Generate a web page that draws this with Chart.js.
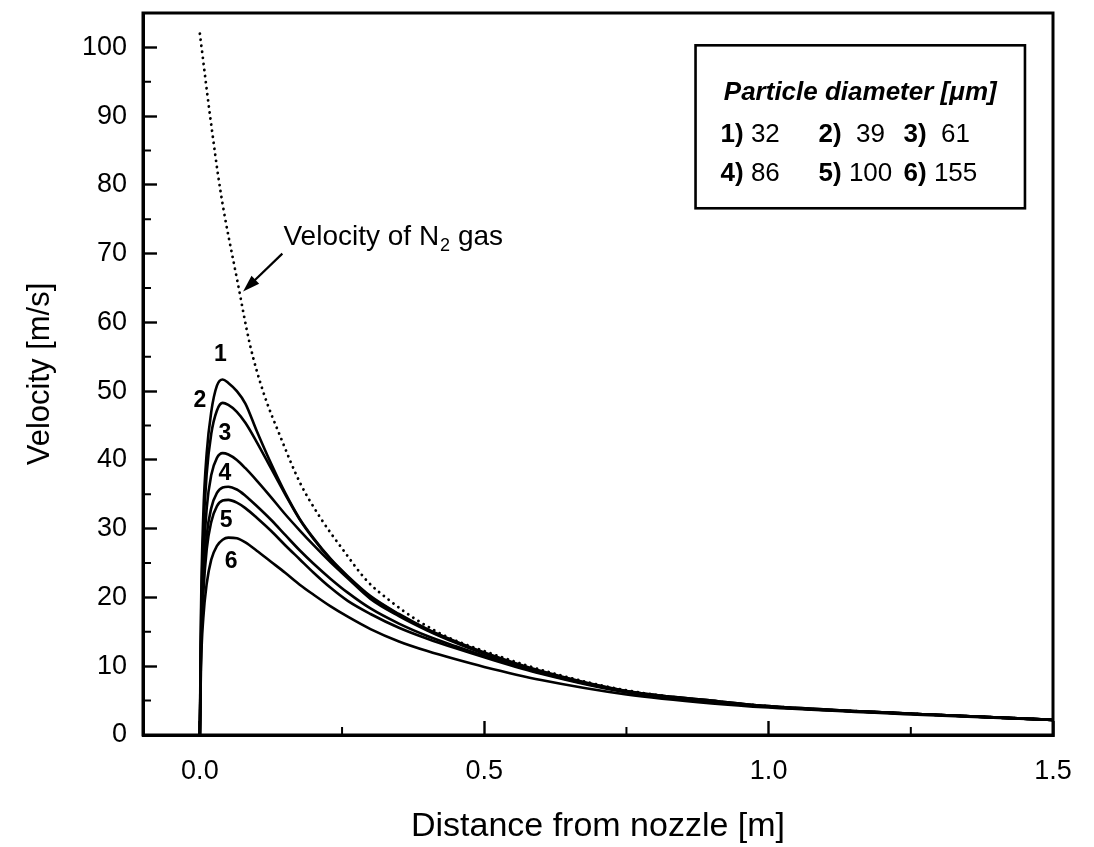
<!DOCTYPE html>
<html>
<head>
<meta charset="utf-8">
<title>Velocity vs distance from nozzle</title>
<script src="https://cdn.jsdelivr.net/npm/chart.js@4.4.1/dist/chart.umd.min.js"></script>
<style>
    html, body { margin: 0; padding: 0; background: #fff; }
    canvas { display: block; }
</style>
</head>
<body>
<canvas id="velocityChart" width="1094" height="847"></canvas>
<script>
// data
const distance = [0, 0.002, 0.006, 0.012, 0.02, 0.03, 0.04, 0.05, 0.065, 0.08, 0.1, 0.125, 0.15, 0.175, 0.2, 0.23, 0.26, 0.3, 0.35, 0.4, 0.45, 0.5, 0.6, 0.75, 0.9, 1.0, 1.25, 1.5];

const v32  = [0, 18, 32, 41, 47, 50.8, 51.7, 51.2, 50, 48.2, 44.2, 39.5, 35.2, 31.5, 28.6, 25.6, 23.1, 20.2, 17.6, 15.4, 13.6, 12.0, 9.3, 6.4, 5.0, 4.2, 3.1, 2.2];
const v39  = [0, 16, 29, 38, 43.8, 47.2, 48.3, 48.0, 47.0, 45.4, 42.6, 38.8, 35.0, 31.4, 28.5, 25.5, 23.0, 20.1, 17.5, 15.3, 13.5, 11.9, 9.2, 6.4, 5.0, 4.2, 3.1, 2.2];
const v61  = [0, 14, 25, 33, 37.8, 40.3, 41.0, 40.8, 40.0, 38.8, 37.0, 34.6, 32.1, 29.8, 27.6, 25.1, 22.8, 19.8, 17.3, 15.2, 13.4, 11.8, 9.1, 6.3, 4.9, 4.1, 3.1, 2.2];
const v86  = [0, 13, 22, 29, 33, 35.2, 36.0, 36.1, 35.7, 34.8, 33.3, 31.3, 29.1, 26.9, 24.9, 22.7, 20.7, 18.4, 16.2, 14.4, 12.9, 11.5, 9.0, 6.3, 4.9, 4.1, 3.1, 2.2];
const v100 = [0, 12, 20.5, 27, 31, 33.3, 34.1, 34.2, 33.8, 33.0, 31.6, 29.7, 27.6, 25.6, 23.6, 21.4, 19.5, 17.6, 15.6, 14.0, 12.6, 11.3, 8.9, 6.2, 4.8, 4.1, 3.1, 2.2];
const v155 = [0, 10, 17, 22, 25.5, 27.5, 28.4, 28.7, 28.6, 28.0, 26.8, 25.2, 23.6, 21.9, 20.4, 18.7, 17.2, 15.4, 13.6, 12.2, 11.0, 9.9, 8.0, 5.9, 4.6, 4.0, 3.0, 2.2];

const gasDistance = [0, 0.018, 0.037, 0.066, 0.088, 0.111, 0.141, 0.176, 0.211, 0.252, 0.294, 0.33, 0.38, 0.434, 0.5, 0.62, 0.75, 1.0, 1.25, 1.5];
const gasVelocity = [102, 90, 78.7, 66, 56.8, 50, 43.5, 36.7, 31.7, 26.9, 22.4, 19.8, 16.8, 14.3, 12.2, 9.0, 6.5, 4.2, 3.1, 2.2];

const curveIds = ['1', '2', '3', '4', '5', '6'];
const diameters = [32, 39, 61, 86, 100, 155];
const particleSeries = [v32, v39, v61, v86, v100, v155];

const xTicks = [0, 0.5, 1.0, 1.5];
const xMinorTicks = [0.25, 0.75, 1.25];
const yTicks = [0, 10, 20, 30, 40, 50, 60, 70, 80, 90, 100];
const yMinorTicks = [5, 15, 25, 35, 45, 55, 65, 75, 85, 95];

// where the curve numbers sit (data coords)
const curveLabelPos = [
    { x: 0.036, y: 55.3 },
    { x: 0.000, y: 48.6 },
    { x: 0.044, y: 43.8 },
    { x: 0.044, y: 38.0 },
    { x: 0.046, y: 31.2 },
    { x: 0.055, y: 25.2 }
];

const FONT = '"Liberation Sans", Arial, Helvetica, sans-serif';

function toPoints(xs, ys) {
    return xs.map((x, i) => ({ x: x, y: ys[i] }));
}

const datasets = particleSeries.map((vals, i) => ({
    label: curveIds[i] + ') ' + diameters[i],
    data: toPoints(distance, vals),
    borderColor: '#000',
    borderWidth: 2.6,
    pointRadius: 0,
    cubicInterpolationMode: 'monotone',
    fill: false
}));

datasets.push({
    label: 'Velocity of N2 gas',
    data: toPoints(gasDistance, gasVelocity),
    borderColor: '#000',
    borderWidth: 2.8,
    borderDash: [0.1, 6],
    borderCapStyle: 'round',
    pointRadius: 0,
    cubicInterpolationMode: 'monotone',
    fill: false
});

// frame, minor ticks, curve numbers, annotation and the legend box
const decorations = {
    id: 'decorations',
    afterDraw(chart) {
        const ctx = chart.ctx;
        const area = chart.chartArea;
        const xs = chart.scales.x;
        const ys = chart.scales.y;

        ctx.save();
        ctx.strokeStyle = '#000';
        ctx.fillStyle = '#000';

        // frame
        ctx.lineWidth = 3;
        ctx.strokeRect(area.left, area.top, area.right - area.left, area.bottom - area.top);

        // minor ticks, inward
        ctx.lineWidth = 2;
        ctx.beginPath();
        xMinorTicks.forEach(v => {
            const px = xs.getPixelForValue(v);
            ctx.moveTo(px, area.bottom);
            ctx.lineTo(px, area.bottom - 8);
        });
        yMinorTicks.forEach(v => {
            const py = ys.getPixelForValue(v);
            ctx.moveTo(area.left, py);
            ctx.lineTo(area.left + 8, py);
        });
        ctx.stroke();

        // curve numbers
        ctx.font = 'bold 23px ' + FONT;
        ctx.textAlign = 'center';
        ctx.textBaseline = 'middle';
        curveLabelPos.forEach((p, i) => {
            ctx.fillText(curveIds[i], xs.getPixelForValue(p.x), ys.getPixelForValue(p.y));
        });

        // annotation for the gas curve
        const tx = xs.getPixelForValue(0.147);
        const ty = ys.getPixelForValue(71.3);
        ctx.textAlign = 'left';
        ctx.textBaseline = 'alphabetic';
        ctx.font = '28px ' + FONT;
        let cx = tx;
        const part1 = 'Velocity of N';
        ctx.fillText(part1, cx, ty);
        cx += ctx.measureText(part1).width;
        ctx.font = '18px ' + FONT;
        ctx.fillText('2', cx + 1, ty + 6);
        cx += ctx.measureText('2').width + 1;
        ctx.font = '28px ' + FONT;
        ctx.fillText(' gas', cx, ty);

        const ax0 = xs.getPixelForValue(0.145);
        const ay0 = ys.getPixelForValue(70.0);
        const ax1 = xs.getPixelForValue(0.076);
        const ay1 = ys.getPixelForValue(64.5);
        const ang = Math.atan2(ay1 - ay0, ax1 - ax0);
        ctx.lineWidth = 2.2;
        ctx.beginPath();
        ctx.moveTo(ax0, ay0);
        ctx.lineTo(ax1 - 10 * Math.cos(ang), ay1 - 10 * Math.sin(ang));
        ctx.stroke();
        ctx.beginPath();
        ctx.moveTo(ax1, ay1);
        ctx.lineTo(ax1 - 17 * Math.cos(ang) + 5.5 * Math.sin(ang), ay1 - 17 * Math.sin(ang) - 5.5 * Math.cos(ang));
        ctx.lineTo(ax1 - 17 * Math.cos(ang) - 5.5 * Math.sin(ang), ay1 - 17 * Math.sin(ang) + 5.5 * Math.cos(ang));
        ctx.closePath();
        ctx.fill();

        // legend box
        const bx0 = xs.getPixelForValue(0.8715);
        const bx1 = xs.getPixelForValue(1.4507);
        const by0 = ys.getPixelForValue(100.3);
        const by1 = ys.getPixelForValue(76.6);
        ctx.lineWidth = 2.6;
        ctx.strokeRect(bx0, by0, bx1 - bx0, by1 - by0);

        ctx.textAlign = 'center';
        ctx.font = 'bold italic 26px ' + FONT;
        ctx.fillText('Particle diameter [\u03bcm]', (bx0 + bx1) / 2, by0 + 55);

        const colOffsets = [25, 123, 208];
        const rowOffsets = [97, 136];
        ctx.textAlign = 'left';
        diameters.forEach((d, i) => {
            const col = i % 3;
            const row = Math.floor(i / 3);
            const px = bx0 + colOffsets[col];
            const py = by0 + rowOffsets[row];
            ctx.font = 'bold 26px ' + FONT;
            const lab = curveIds[i] + ')';
            ctx.fillText(lab, px, py);
            const w = ctx.measureText(lab).width;
            ctx.font = '26px ' + FONT;
            const gap = (col > 0 && d < 100) ? '  ' : ' ';
            ctx.fillText(gap + d, px + w, py);
        });

        ctx.restore();
    }
};

const ctx = document.getElementById('velocityChart').getContext('2d');
const velocityChart = new Chart(ctx, {
    type: 'line',
    data: { datasets: datasets },
    options: {
        responsive: false,
        animation: false,
        events: [],
        layout: { padding: { top: 13, right: 41, left: 0, bottom: 0 } },
        plugins: {
            legend: { display: false },
            tooltip: { enabled: false }
        },
        scales: {
            x: {
                type: 'linear',
                position: 'bottom',
                min: -0.1,
                max: 1.5,
                afterBuildTicks: scale => {
                    scale.ticks = xTicks.map(v => ({ value: v }));
                },
                afterFit: scale => {
                    scale.height = 112;
                    scale.paddingLeft = 0;
                    scale.paddingRight = 0;
                },
                ticks: {
                    color: '#000',
                    font: { family: FONT, size: 27 },
                    padding: 34,
                    maxRotation: 0,
                    callback: v => Number(v).toFixed(1)
                },
                grid: {
                    drawOnChartArea: false,
                    drawTicks: true,
                    tickLength: -14,
                    tickColor: '#000',
                    tickWidth: 2.4
                },
                border: { display: true, color: '#000', width: 3 },
                title: {
                    display: true,
                    text: 'Distance from nozzle [m]',
                    color: '#000',
                    font: { family: FONT, size: 34 },
                    padding: { top: 18, bottom: 0 }
                }
            },
            y: {
                type: 'linear',
                min: 0,
                max: 105,
                afterBuildTicks: scale => {
                    scale.ticks = yTicks.map(v => ({ value: v }));
                },
                afterFit: scale => {
                    scale.width = 143;
                    scale.paddingTop = 0;
                    scale.paddingBottom = 0;
                },
                ticks: {
                    color: '#000',
                    font: { family: FONT, size: 27 },
                    padding: 30
                },
                grid: {
                    drawOnChartArea: false,
                    drawTicks: true,
                    tickLength: -14,
                    tickColor: '#000',
                    tickWidth: 2.4
                },
                border: { display: true, color: '#000', width: 3 },
                title: {
                    display: true,
                    text: 'Velocity [m/s]',
                    color: '#000',
                    font: { family: FONT, size: 31 },
                    padding: { top: 22, bottom: 0 }
                }
            }
        }
    },
    plugins: [decorations]
});
</script>
</body>
</html>
